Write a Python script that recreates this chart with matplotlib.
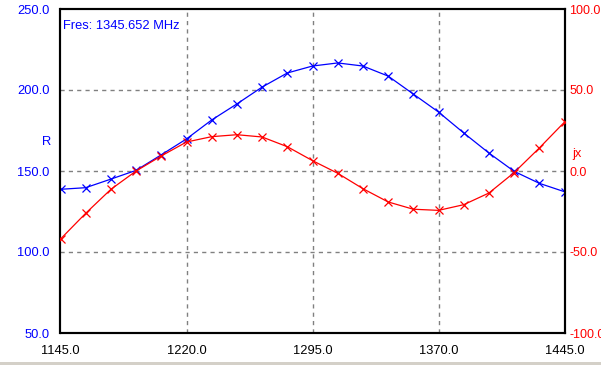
import matplotlib
matplotlib.use("Agg")
import matplotlib.pyplot as plt
from matplotlib.patches import Rectangle

freq = [1145, 1160, 1175, 1190, 1205, 1220, 1235, 1250, 1265, 1280, 1295,
        1310, 1325, 1340, 1355, 1370, 1385, 1400, 1415, 1430, 1445]
r_vals = [138.7, 139.7, 145.0, 150.4, 160.0, 169.8, 181.5, 191.4, 201.8, 210.5, 214.8,
          216.7, 214.8, 208.6, 197.5, 186.4, 173.5, 161.1, 149.8, 142.4, 137.2]
jx_vals = [-42.0, -26.1, -11.3, 0.0, 9.3, 17.9, 21.2, 22.4, 21.0, 15.0, 6.4,
           -1.4, -10.9, -19.1, -23.6, -24.3, -20.8, -13.6, -1.0, 14.2, 30.2]
x_ticks = [1145.0, 1220.0, 1295.0, 1370.0, 1445.0]
r_ticks = [50.0, 100.0, 150.0, 200.0, 250.0]
jx_ticks = [-100.0, -50.0, 0.0, 50.0, 100.0]
fres_text = "Fres: 1345.652 MHz"

plt.rcParams['font.family'] = ['Liberation Sans', 'DejaVu Sans']
W, H = 601, 365
fig = plt.figure(figsize=(W / 100, H / 100), dpi=100)
fig.patch.set_facecolor('white')
fig.patches.append(Rectangle((0, 0), 1, 3.5 / H, transform=fig.transFigure,
                             facecolor='#d4d0c8', edgecolor='none', zorder=0))

l, r, t, b = 60.5, 564.5, 9, 333
ax = fig.add_axes([l / W, 1 - b / H, (r - l) / W, (b - t) / H])
ax2 = ax.twinx()

ax.set_xlim(1145, 1445)
ax.set_ylim(50, 250)
ax2.set_ylim(-100, 100)

ax.set_xticks(x_ticks)
ax.set_xticklabels([f"{v:.1f}" for v in x_ticks])
ax.set_yticks(r_ticks)
ax.set_yticklabels([f"{v:.1f}" for v in r_ticks])
ax2.set_yticks(jx_ticks)
ax2.set_yticklabels([f"{v:.1f}" for v in jx_ticks])

fs = 9.3
ax.tick_params(axis='x', length=0, pad=9, labelsize=fs, colors='black')
ax.tick_params(axis='y', length=0, pad=8, labelsize=fs, labelcolor='blue')
ax2.tick_params(axis='y', length=0, pad=3.5, labelsize=9, labelcolor='red')

for a in (ax, ax2):
    for s in a.spines.values():
        s.set_linewidth(1.5)
        s.set_color('black')

ax.grid(True, color='#808080', linestyle=(0, (3, 3)), linewidth=1)
ax.set_axisbelow(True)
for gl in (ax.get_xgridlines()[0], ax.get_xgridlines()[-1],
           ax.get_ygridlines()[0], ax.get_ygridlines()[-1]):
    gl.set_visible(False)

ax.plot(freq, r_vals, color='blue', linewidth=0.9, marker='x', markersize=5.5,
        markeredgewidth=0.9, zorder=3)
ax2.plot(freq, jx_vals, color='red', linewidth=0.9, marker='x', markersize=5.5,
         markeredgewidth=0.9, zorder=3)

ax.set_ylabel("R", color='blue', fontsize=fs, rotation=0, labelpad=0)
ax.yaxis.set_label_coords(-0.028, 0.57)
ax2.set_ylabel("jx", color='red', fontsize=fs, rotation=0, labelpad=0)
ax2.yaxis.set_label_coords(1.025, 0.57)

ax.text(0.005, 0.965, fres_text, transform=ax.transAxes, color='blue',
        fontsize=fs, ha='left', va='top')

fig.savefig("out.png", dpi=100)
